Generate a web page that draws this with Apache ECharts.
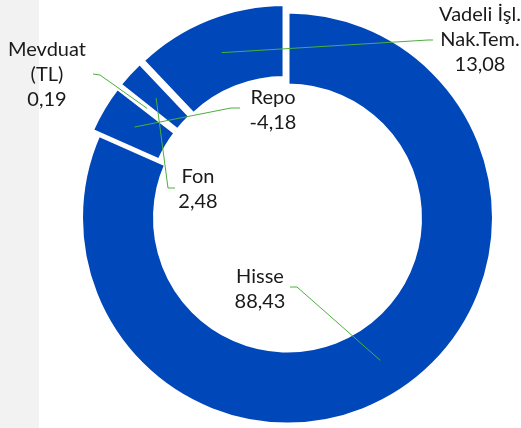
<!DOCTYPE html>
<html>
<head>
<meta charset="utf-8">
<script src="https://cdn.jsdelivr.net/npm/echarts@6/dist/echarts.min.js"></script>
<style>
  html, body { margin: 0; padding: 0; background: #fff; }
  #main { width: 521px; height: 428px; }
</style>
</head>
<body>
<div id="main"></div>
<script>
var myChart = echarts.init(document.getElementById('main'));

// slices, clockwise from the top
var names = ['Hisse', 'Repo', 'Mevduat\n(TL)', 'Fon', 'Vadeli İşl.\nNak.Tem.'];
var values = [88.43, -4.18, 0.19, 2.48, 13.08];
var exploded = [false, true, true, true, true];

// label placement: text centre, start of leader, elbow of leader
var labelAt = [[260, 289], [273, 110], [47, 75], [198, 189], [480, 40]];
var lineStart = [[290, 287], [240, 108], [93, 74], [175, 188], [433, 40]];
var lineElbow = [[297, 287], [231, 108], [100, 75], [168, 188], [428, 40]];

var cx = 287.5, cy = 218;
var midR = 170, offset = 8;

var pieData = [], labelData = [];
for (var i = 0; i < names.length; i++) {
    pieData.push({ name: names[i], value: Math.abs(values[i]), selected: exploded[i] });
    labelData.push({ name: names[i], value: Math.abs(values[i]), raw: values[i] });
}

function fmt(v) {
    return v.toFixed(2).replace('.', ',');
}

myChart.setOption({
    animation: false,
    backgroundColor: '#fff',
    graphic: [{
        type: 'rect',
        left: 0, top: 0, z: -10,
        shape: { width: 39, height: 428 },
        style: { fill: '#F2F2F2' }
    }],
    series: [{
        type: 'pie',
        z: 2,
        center: [cx, cy],
        radius: [132.5, 206.5],
        startAngle: 90,
        clockwise: true,
        selectedMode: 'multiple',
        selectedOffset: offset,
        silent: true,
        label: { show: false },
        labelLine: { show: false },
        itemStyle: { color: '#0047BA', borderColor: '#fff', borderWidth: 4 },
        select: { itemStyle: { color: '#0047BA', borderColor: '#fff', borderWidth: 4 } },
        emphasis: { disabled: true },
        data: pieData
    }, {
        // same slices, invisible, only to carry the labels and leader lines
        type: 'pie',
        z: 5,
        center: [cx, cy],
        radius: [132.5, 206.5],
        startAngle: 90,
        clockwise: true,
        silent: true,
        avoidLabelOverlap: false,
        itemStyle: { color: 'rgba(0,0,0,0)', borderWidth: 0 },
        emphasis: { disabled: true },
        label: {
            show: true,
            position: 'outside',
            fontFamily: 'Lato',
            fontSize: 20,
            lineHeight: 25,
            color: '#1a1a1a',
            align: 'center',
            formatter: function (p) {
                return p.name + '\n' + fmt(p.data.raw);
            }
        },
        labelLine: {
            show: true,
            lineStyle: { color: '#4CAF3F', width: 1 }
        },
        labelLayout: function (params) {
            var i = params.dataIndex;
            var p0 = params.labelLinePoints[0];
            var dx = p0[0] - cx, dy = p0[1] - cy;
            var len = Math.sqrt(dx * dx + dy * dy);
            var r = midR + (exploded[i] ? offset : 0);
            var end = [cx + dx / len * r, cy + dy / len * r];
            return {
                x: labelAt[i][0],
                y: labelAt[i][1],
                align: 'center',
                verticalAlign: 'middle',
                labelLinePoints: [lineStart[i], lineElbow[i], end]
            };
        },
        data: labelData
    }]
});
</script>
</body>
</html>
